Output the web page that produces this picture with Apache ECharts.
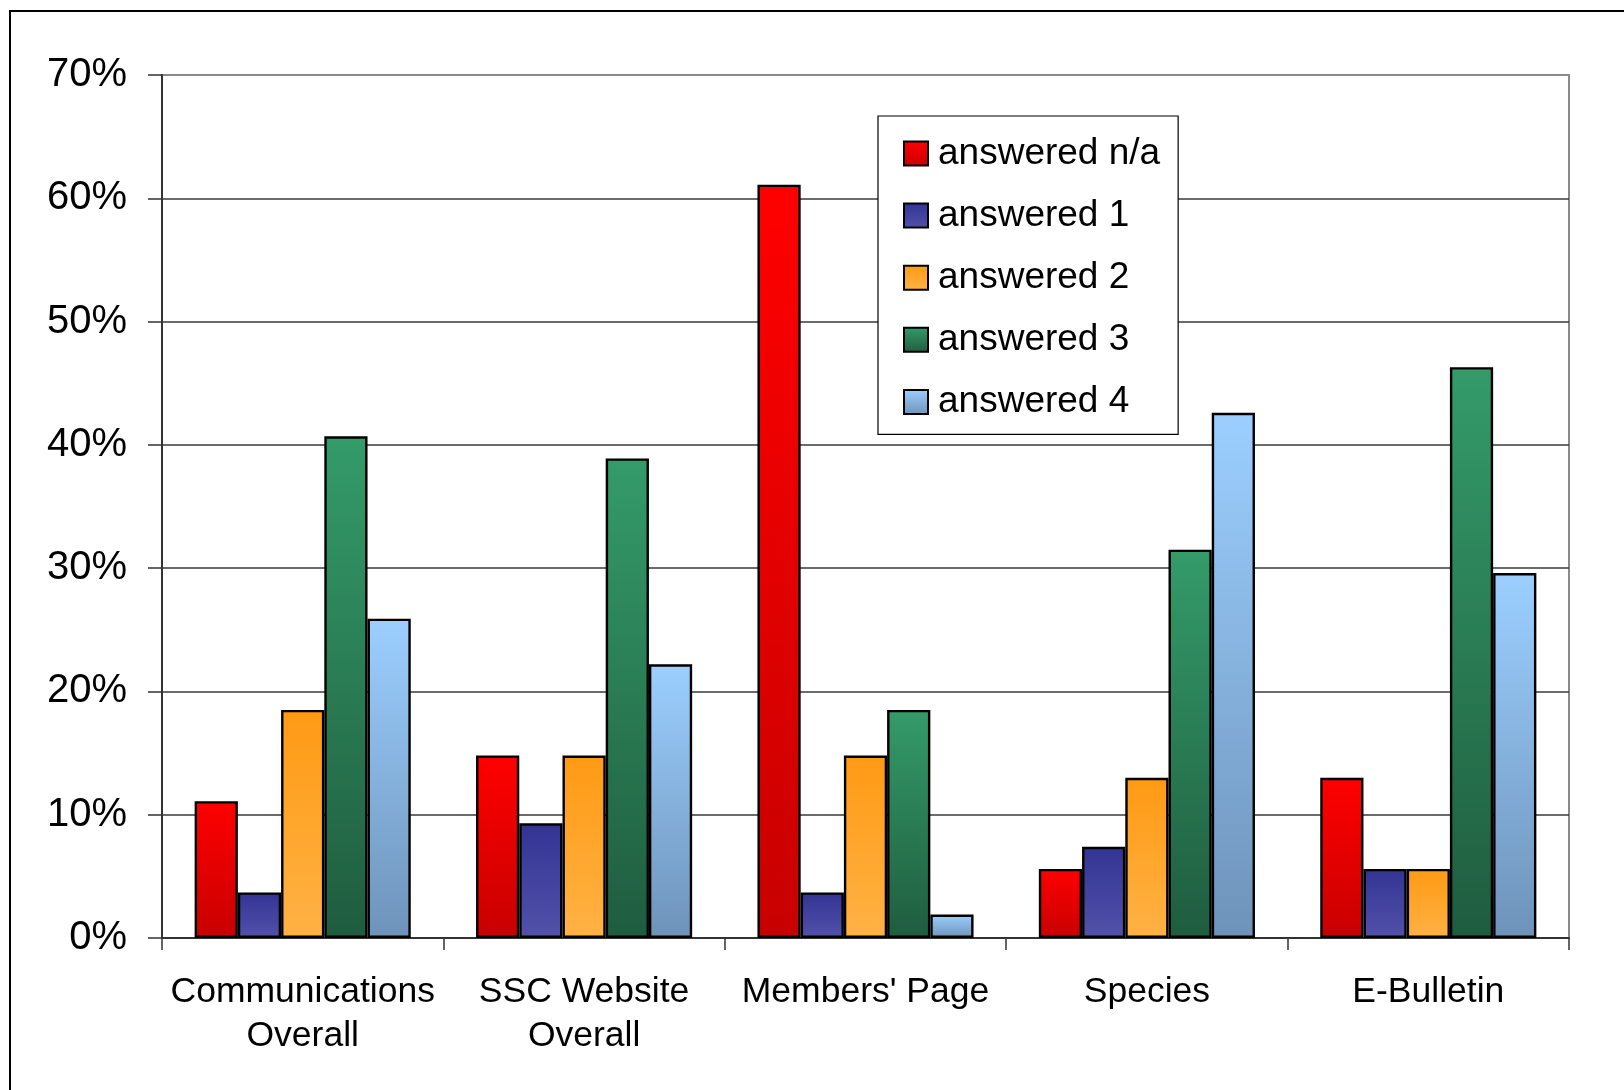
<!DOCTYPE html>
<html>
<head>
<meta charset="utf-8">
<script src="https://cdn.jsdelivr.net/npm/echarts@6/dist/echarts.min.js"></script>
<style>
html,body{margin:0;padding:0;background:#fff;}
#chart{width:1624px;height:1090px;}
</style>
</head>
<body>
<div id="chart"></div>
<script>
const categories = ['Communications\nOverall', 'SSC Website\nOverall', "Members' Page", 'Species', 'E-Bulletin'];
const seriesNames = ['answered n/a', 'answered 1', 'answered 2', 'answered 3', 'answered 4'];
const answeredNA = [11.1, 14.8, 61.1, 5.6, 13.0];
const answered1 = [3.7, 9.3, 3.7, 7.4, 5.6];
const answered2 = [18.5, 14.8, 14.8, 13.0, 5.6];
const answered3 = [40.7, 38.9, 18.5, 31.5, 46.3];
const answered4 = [25.9, 22.2, 1.9, 42.6, 29.6];
const yTicks = [0, 10, 20, 30, 40, 50, 60, 70];

const seriesData = [answeredNA, answered1, answered2, answered3, answered4];
const gradients = [
  ['#ff0000', '#c80000'],
  ['#333394', '#5252aa'],
  ['#ff9a14', '#ffb245'],
  ['#349b69', '#1f5c3f'],
  ['#9ccfff', '#6e93ba']
];
const FONT = "'Liberation Sans', Arial, sans-serif";

const chart = echarts.init(document.getElementById('chart'));
const splitColors = yTicks.map((t, i) => i === yTicks.length - 1 ? '#8a8a8a' : '#3a3a3a');

chart.setOption({
  animation: false,
  backgroundColor: '#fff',
  textStyle: { fontFamily: FONT, color: '#000' },
  graphic: [{
    type: 'rect',
    shape: { x: 10, y: 11, width: 3000, height: 3000 },
    style: { fill: 'none', stroke: '#000', lineWidth: 2 },
    z: 100
  }],
  grid: {
    left: 162, right: 55, top: 75, bottom: 152,
    show: true, borderColor: '#8a8a8a', borderWidth: 2, backgroundColor: 'transparent'
  },
  legend: {
    orient: 'vertical',
    left: 878, top: 116,
    padding: [19, 18, 14, 25],
    itemWidth: 24, itemHeight: 24, itemGap: 25.1,
    backgroundColor: '#fff',
    borderColor: '#000', borderWidth: 1.2,
    icon: 'rect',
    textStyle: { fontSize: 37, lineHeight: 36, fontFamily: FONT, color: '#000', padding: [0, 0, 0, 5] },
    data: seriesNames
  },
  xAxis: {
    type: 'category',
    data: categories,
    axisLine: { lineStyle: { color: '#333', width: 2 } },
    axisTick: { show: true, length: 12, lineStyle: { color: '#333', width: 1.5 } },
    axisLabel: { fontSize: 35.5, lineHeight: 44, margin: 32, color: '#000', fontFamily: FONT, interval: 0 },
    splitLine: { show: false }
  },
  yAxis: {
    type: 'value',
    min: 0, max: 70, interval: 10,
    axisLine: { show: true, lineStyle: { color: '#333', width: 2 } },
    axisTick: { show: true, length: 14, lineStyle: { color: '#333', width: 1.5 } },
    axisLabel: { fontSize: 40, margin: 35, color: '#000', fontFamily: FONT, formatter: '{value}%' },
    splitLine: { show: true, lineStyle: { color: splitColors, width: 1.5 } }
  },
  series: seriesNames.map((name, i) => ({
    name: name,
    type: 'bar',
    data: seriesData[i],
    barGap: '0%',
    barCategoryGap: '23.2%',
    itemStyle: {
      color: new echarts.graphic.LinearGradient(0, 0, 0, 1, [
        { offset: 0, color: gradients[i][0] },
        { offset: 1, color: gradients[i][1] }
      ]),
      borderColor: '#000',
      borderWidth: 2.4
    },
    emphasis: { disabled: true }
  }))
});
</script>
</body>
</html>
